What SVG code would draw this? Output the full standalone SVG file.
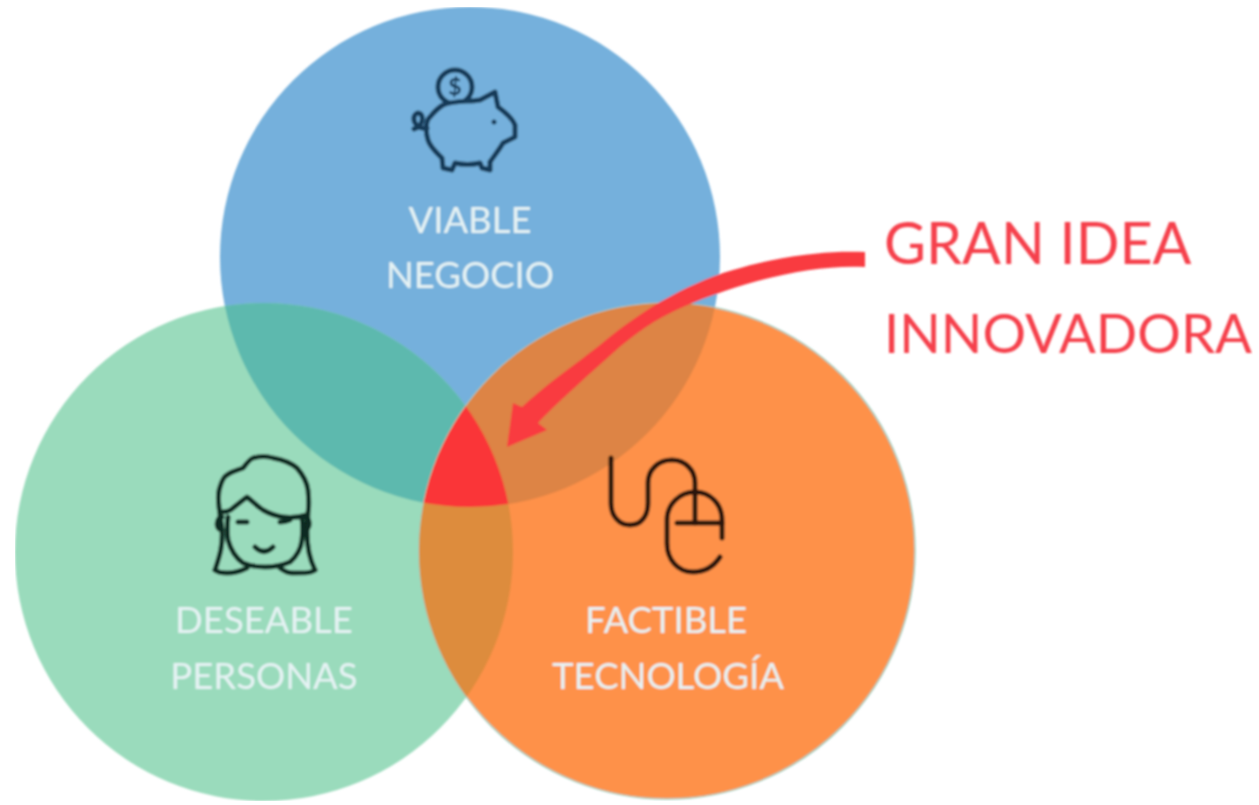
<svg xmlns="http://www.w3.org/2000/svg" width="1259" height="805" viewBox="0 0 1259 805">
<style>
.lbl{font-family:Lato,"Open Sans",sans-serif;font-size:36.5px;fill:#e6f3f4;text-anchor:middle}
.big{font-family:Lato,"Open Sans",sans-serif;font-size:57.5px;fill:#f5414c}
.ico{fill:none;stroke-width:5;stroke-linecap:round;stroke-linejoin:round}
</style>
<defs>
<clipPath id="cb"><circle cx="470" cy="257" r="250"/></clipPath>
<clipPath id="cg"><circle cx="264" cy="552" r="249"/></clipPath>
<clipPath id="co"><circle cx="667" cy="551" r="248"/></clipPath>
<filter id="soft" x="0" y="0" width="100%" height="100%"><feGaussianBlur stdDeviation="0.8"/></filter>
</defs>
<rect width="1259" height="805" fill="#fff"/>
<g filter="url(#soft)">
<g id="blue"><circle cx="470" cy="257" r="250" fill="#74b0dc"/></g>
<g id="green"><circle cx="264" cy="552" r="249" fill="#9adbbc"/>
<circle cx="470" cy="257" r="250" fill="#5db9ae" clip-path="url(#cg)"/></g>
<g id="orange"><circle cx="667" cy="551" r="248" fill="#fe9148" stroke="#9fcfc0" stroke-width="1.5"/>
<circle cx="470" cy="257" r="250" fill="#dd8444" clip-path="url(#co)"/>
<circle cx="264" cy="552" r="249" fill="#dd8c3c" clip-path="url(#co)"/></g>
<g id="center"><g clip-path="url(#co)"><g clip-path="url(#cg)"><circle cx="470" cy="257" r="250" fill="#fa3538"/></g></g></g>
<g id="viable">
<g class="ico" stroke="#123a58">
<circle cx="455" cy="87" r="17"/>
<path d="M443 105C455 100 468 102 480 100L495 92L498 107C505 112 512 118 515 125L515 137L503 143C499 150 494 156 490 162L490 170L482 168L480 163C472 165 463 165 455 163L452 170L443 168L442 158C436 152 430 147 428 140C425 130 426 120 430 117C434 112 438 108 443 105Z" fill="#74b0dc"/>
<path d="M427 128C418 130 413 122 414 117C416 110 424 113 422 121C421 125 418 128 414 129"/>
</g>
<circle cx="494" cy="122" r="2.5" fill="#123a58"/>
<text x="455" y="95" font-family="Lato,sans-serif" font-size="23" font-weight="700" text-anchor="middle" fill="#123a58">$</text>
<text class="lbl" x="470" y="233">VIABLE</text>
<text class="lbl" x="470" y="288">NEGOCIO</text>
</g>
<g id="deseable">
<g class="ico" stroke="#0a2a20">
<path d="M215 570C220 555 223 545 222 530L219 507C218 498 218 492 220 487C222 480 225 476 227 475C232 471 238 470 243 468C247 463 250 459 253 458C260 456 267 456 273 458C284 460 291 463 297 468C303 475 307 482 308 490C309 500 309 507 308 513L307 532C307 548 310 560 315 570"/>
<path d="M215 570C219 573 223 573 227 573C235 573 241 571 247 568M315 570C311 573 307 573 293 573C288 573 284 571 280 568"/>
<path d="M228 517C227 525 227 533 228 540C231 551 236 558 243 563C250 566 258 567 265 567C274 567 283 565 290 562C297 556 301 548 302 540C303 533 303 525 302 518"/>
<path d="M222 512C226 512 230 511 233 508C238 504 243 500 247 497C252 501 257 506 263 510C270 514 276 516 283 517C291 518 300 517 307 515"/>
<path d="M222 517C216 517 215 530 222 530M304 517C311 517 311 530 304 530"/>
<path d="M238 522H247M280 522Q285 522 290 520M255 547Q264 556 273 547"/>
</g>
<text class="lbl" x="264" y="633">DESEABLE</text>
<text class="lbl" x="264" y="689">PERSONAS</text>
</g>
<g id="factible">
<g class="ico" stroke="#2b120a">
<path d="M611 458V503C611 516 619 525 630 525C641 525 648 516 648 503V483C648 470 658 460 672 460C685 460 695 470 695 483V523"/>
<path d="M722 538V520C722 504 710 492 695 492C680 492 667 504 667 520V543C667 560 678 572 693 572C705 572 714 566 720 557"/>
<path d="M677 523H722"/>
</g>
<text class="lbl" x="666" y="633">FACTIBLE</text>
<text class="lbl" x="668" y="689">TECNOLOGÍA</text>
</g>
<g id="connectors">
<path d="M865 267C815 264 745 280 683 307C655 319 633 335 613 353C595 369 560 400 538 423L547 430L507 447L513 403L522 407C545 385 572 367 600 345C620 328 640 314 660 302C685 288 708 277 733 270C775 257 825 250 865 252Z" fill="#f93a40"/>
</g>
<g id="idea">
<text class="big" x="884" y="264">GRAN IDEA</text>
<text class="big" x="884" y="353" style="font-size:54.5px">INNOVADORA</text>
</g>
</g>
</svg>
